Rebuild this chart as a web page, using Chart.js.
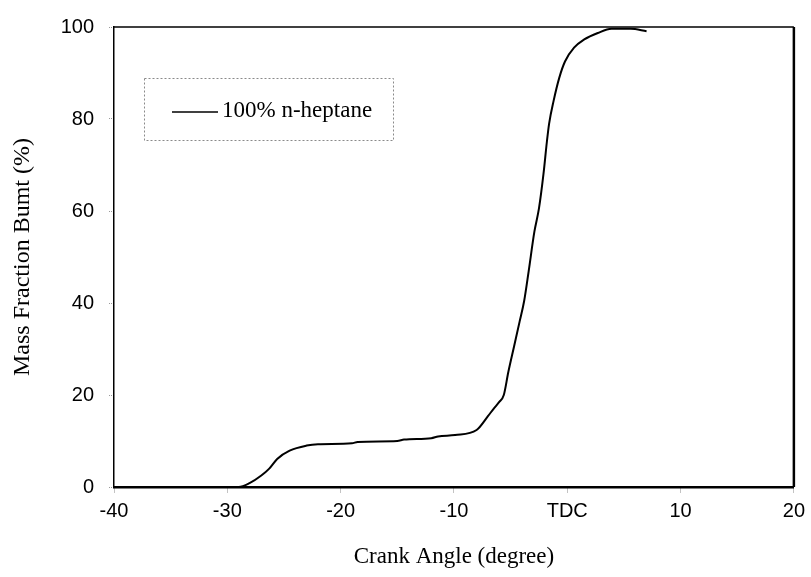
<!DOCTYPE html>
<html>
<head>
<meta charset="utf-8">
<script src="https://cdn.jsdelivr.net/npm/chart.js@4.4.1/dist/chart.umd.min.js"></script>
<style>
html, body { margin: 0; padding: 0; background: #fff; }
</style>
</head>
<body>
<canvas id="chart" width="811" height="577"></canvas>
<script>
// data //
const seriesName = '100% n-heptane';
const crankAngle = [-40, -29, -28, -27, -26.3, -25.6, -24.5, -23, -22, -19, -18.5, -15, -14.4, -12, -11.4, -9.9,
    -8.0, -7.0, -6.5, -6.0, -5.6, -5.2, -4.7, -4.2, -3.8, -3.4, -2.9, -2.5, -2.1, -1.8, -1.6, -1.2, -0.7, -0.2,
    0.6, 1.5, 2.7, 3.9, 5.6, 7.0];
const massBurnt = [0, 0, 0.9, 2.5, 4.0, 6.1, 7.9, 9.0, 9.3, 9.5, 9.8, 10.0, 10.3, 10.6, 11.0, 11.3,
    12.4, 15.4, 17.0, 18.5, 20, 25, 30.5, 36, 40.5, 47, 55.5, 60.5, 68, 75, 79, 84, 89, 92.5,
    95.5, 97.3, 98.7, 99.6, 99.6, 99.1];
const xTicks = [-40, -30, -20, -10, 0, 10, 20];
const xTickLabels = ['-40', '-30', '-20', '-10', 'TDC', '10', '20'];
const yTicks = [0, 20, 40, 60, 80, 100];

const points = crankAngle.map((x, i) => ({ x: x, y: massBurnt[i] }));

// close the frame on top and right //
const frame = {
    id: 'frame',
    afterDatasetsDraw(chart) {
        const { ctx, chartArea: a } = chart;
        ctx.save();
        ctx.strokeStyle = '#000';
        ctx.lineWidth = 1.5;
        ctx.beginPath();
        ctx.moveTo(a.left, a.top);
        ctx.lineTo(a.right, a.top);
        ctx.stroke();
        ctx.lineWidth = 2.5;
        ctx.beginPath();
        ctx.moveTo(a.right, a.top);
        ctx.lineTo(a.right, a.bottom);
        ctx.stroke();
        ctx.restore();
    }
};

// boxed legend inside the plot //
const boxLegend = {
    id: 'boxLegend',
    afterDraw(chart) {
        const ctx = chart.ctx;
        const ds = chart.data.datasets[0];
        ctx.save();
        ctx.setLineDash([2, 2]);
        ctx.strokeStyle = '#8a8a8a';
        ctx.lineWidth = 1;
        ctx.strokeRect(144.5, 78.5, 249, 62);
        ctx.setLineDash([]);
        ctx.strokeStyle = ds.borderColor;
        ctx.lineWidth = 1.5;
        ctx.beginPath();
        ctx.moveTo(172, 112);
        ctx.lineTo(218, 112);
        ctx.stroke();
        ctx.fillStyle = '#000';
        ctx.font = '23px "Liberation Serif", "Times New Roman", serif';
        ctx.textBaseline = 'middle';
        ctx.fillText(ds.label, 222, 111);
        ctx.restore();
    }
};

new Chart(document.querySelector('#chart').getContext('2d'), {
    type: 'line',
    data: {
        datasets: [
            {
                label: seriesName,
                data: points,
                borderColor: '#000',
                borderWidth: 2,
                pointRadius: 0,
                cubicInterpolationMode: 'monotone',
                fill: false,
                clip: 4
            }
        ]
    },
    options: {
        responsive: false,
        animation: false,
        layout: { padding: { top: 19, right: 14, bottom: 0, left: 0 } },
        plugins: {
            legend: { display: false },
            tooltip: { enabled: false }
        },
        scales: {
            x: {
                type: 'linear',
                min: -40,
                max: 20,
                afterBuildTicks: (scale) => { scale.ticks = xTicks.map(v => ({ value: v })); },
                afterFit: (scale) => { scale.height = 90; },
                ticks: {
                    callback: (v) => xTickLabels[xTicks.indexOf(v)],
                    color: '#000',
                    font: { family: '"Liberation Sans", Arial, sans-serif', size: 20 },
                    padding: 6,
                    maxRotation: 0
                },
                grid: {
                    drawOnChartArea: false,
                    drawTicks: true,
                    tickLength: 6,
                    tickColor: '#888',
                    tickBorderDash: [1, 1]
                },
                border: { display: true, color: '#000', width: 2.5 },
                title: {
                    display: true,
                    text: 'Crank Angle (degree)',
                    color: '#000',
                    font: { family: '"Liberation Serif", "Times New Roman", serif', size: 23 },
                    padding: { top: 0, bottom: 6 }
                }
            },
            y: {
                type: 'linear',
                min: 0,
                max: 100,
                afterBuildTicks: (scale) => { scale.ticks = yTicks.map(v => ({ value: v })); },
                afterFit: (scale) => { scale.width = 114; },
                ticks: {
                    color: '#000',
                    font: { family: '"Liberation Sans", Arial, sans-serif', size: 20 },
                    padding: 15
                },
                grid: {
                    drawOnChartArea: false,
                    drawTicks: true,
                    tickLength: 5,
                    tickColor: '#999',
                    tickBorderDash: [1, 1]
                },
                border: { display: true, color: '#000', width: 1.5 },
                title: {
                    display: true,
                    text: 'Mass Fraction Bumt (%)',
                    color: '#000',
                    font: { family: '"Liberation Serif", "Times New Roman", serif', size: 24 },
                    padding: { top: 8, bottom: 0 }
                }
            }
        }
    },
    plugins: [frame, boxLegend]
});
</script>
</body>
</html>
